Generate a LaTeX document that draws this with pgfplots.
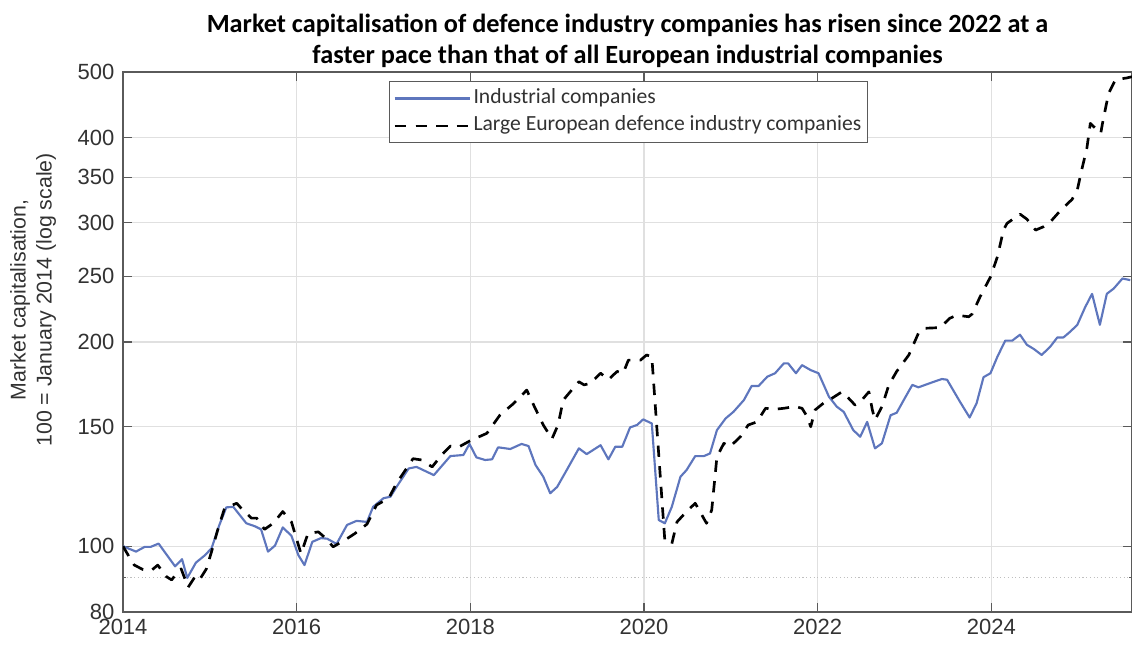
\documentclass[border=0pt]{standalone}
\usepackage{fontspec}
\setmainfont{Liberation Sans}
\newfontfamily\carlito{Carlito}
\usepackage{pgfplots}
\pgfplotsset{compat=1.18}
\definecolor{indblue}{RGB}{94,118,189}
\definecolor{axgray}{RGB}{90,90,90}
\definecolor{txtgray}{RGB}{50,50,50}
\begin{document}
\begin{tikzpicture}
\begin{axis}[
  at={(0,0)}, anchor=south west,
  width=756.75pt, height=405pt, scale only axis,
  xmin=2014, xmax=2025.62,
  ymode=log, ymin=80, ymax=500,
  log basis y=10,
  xtick={2014,2016,2018,2020,2022,2024},
  xticklabels={2014,2016,2018,2020,2022,2024},
  ytick={80,100,150,200,250,300,350,400,500},
  yticklabels={80,100,150,200,250,300,350,400,500},
  minor ytick={}, minor xtick={},
  extra y ticks={90},
  extra y tick labels={},
  extra y tick style={grid=major, major grid style={draw=black!25, dotted, line width=0.8pt}, major tick length=2pt},
  /pgf/number format/assume math mode=true,
  tick align=inside,
  major tick length=7pt,
  tick style={draw=axgray, line width=0.8pt},
  xtick pos=both, ytick pos=both,
  grid=major,
  major grid style={draw=black!12, line width=0.8pt},
  axis line style={draw=axgray, line width=1pt},
  ticklabel style={font=\fontsize{16.5}{18}\selectfont, text=txtgray},
  yticklabel style={xshift=-3pt},
  xticklabel style={yshift=-2pt},
  title={Market capitalisation of defence industry companies has risen since 2022 at a\\faster pace than that of all European industrial companies},
  title style={at={(axis description cs:0.5,1)}, anchor=south, yshift=-3pt, inner sep=0pt, align=center, font=\carlito\bfseries\fontsize{19.7}{23.5}\selectfont},
  ylabel={Market capitalisation,\\100 = January 2014 (log scale)},
  every axis y label/.style={at={(axis description cs:-0.0892,0.578)}, rotate=90, anchor=center, align=center, font=\fontsize{16}{19.5}\selectfont, text=txtgray},
  legend style={at={(axis description cs:0.2636,0.9833)}, anchor=north west, draw=axgray, line width=0.8pt, fill=white, font=\carlito\fontsize{16.2}{19}\selectfont, text=txtgray, inner xsep=3pt, inner ysep=2.5pt, nodes={inner sep=2pt, text height=12pt, text depth=4.5pt, anchor=west}, cells={anchor=west}},
  legend cell align=left,
  legend image code/.code={\draw[#1] (0pt,0pt) -- (53pt,0pt); \path (0pt,0pt) -- (56pt,0pt);},
  clip=true,
]
\addplot[indblue, line width=1.6pt, line join=round] coordinates {
(2014.00,100) (2014.15,98.2) (2014.25,99.8) (2014.32,99.8) (2014.41,100.9) (2014.60,93.4) (2014.68,95.7) (2014.74,89.8) (2014.84,94.6) (2014.94,96.9)
(2015.02,99.3) (2015.11,107.5) (2015.19,114.1) (2015.27,114.3) (2015.42,108.1) (2015.52,107.0) (2015.59,105.9) (2015.67,98.2) (2015.75,100.2) (2015.84,106.6) (2015.94,103.6)
(2016.02,97.0) (2016.09,93.8) (2016.18,101.5) (2016.28,102.8) (2016.35,102.6) (2016.46,100.8) (2016.58,107.5) (2016.69,109.0) (2016.81,108.6) (2016.88,114.3)
(2017.00,117.7) (2017.08,118.3) (2017.15,122.3) (2017.29,130.2) (2017.38,130.9) (2017.58,127.3) (2017.77,135.8) (2017.92,136.3) (2017.99,141.5)
(2018.07,135.2) (2018.17,134.0) (2018.25,134.3) (2018.32,139.9) (2018.46,139.1) (2018.59,141.5) (2018.67,140.5) (2018.75,131.8) (2018.84,126.6) (2018.92,119.7)
(2019.00,122.3) (2019.11,129.5) (2019.25,139.4) (2019.34,136.7) (2019.50,140.9) (2019.59,134.3) (2019.67,140.2) (2019.75,140.2) (2019.84,149.7) (2019.92,150.9) (2019.99,153.8)
(2020.09,151.7) (2020.17,109.3) (2020.24,108.1) (2020.32,114.3) (2020.42,126.6) (2020.49,129.5) (2020.59,135.8) (2020.69,135.8) (2020.76,137.0) (2020.84,148.3) (2020.94,154.3)
(2021.03,157.8) (2021.15,164.2) (2021.24,172.3) (2021.32,172.3) (2021.42,177.8) (2021.51,179.9) (2021.61,186.0) (2021.66,186.0) (2021.75,179.9) (2021.82,184.9) (2021.92,181.8)
(2022.01,179.9) (2022.13,166.1) (2022.22,160.6) (2022.30,157.8) (2022.41,148.3) (2022.49,145.0) (2022.57,152.5) (2022.66,139.4) (2022.74,141.8) (2022.84,156.0) (2022.91,157.3)
(2023.00,165.0) (2023.09,172.9) (2023.16,171.5) (2023.34,174.8) (2023.43,176.4) (2023.49,176.0) (2023.64,163.2) (2023.75,154.8) (2023.83,162.4) (2023.91,177.5) (2023.99,179.9)
(2024.07,190.3) (2024.16,200.9) (2024.24,200.9) (2024.33,205.0) (2024.41,198.1) (2024.49,195.3) (2024.58,191.4) (2024.68,197.0) (2024.76,203.1) (2024.83,203.1) (2024.91,207.2) (2024.99,212.0)
(2025.08,225.0) (2025.16,235.5) (2025.25,212.0) (2025.33,235.5) (2025.41,239.8) (2025.51,248.1) (2025.60,246.7)
};
\addlegendentry{Industrial companies}
\addplot[black, line width=2pt, dash pattern=on 8.5pt off 7pt, line join=round] coordinates {
(2014.00,100) (2014.06,97.0) (2014.13,93.8) (2014.23,92.4) (2014.33,92.2) (2014.40,93.8) (2014.50,90.2) (2014.56,89.2) (2014.63,91.6) (2014.67,92.6) (2014.75,87.0) (2014.83,90.2) (2014.88,89.2) (2014.96,92.6)
(2015.02,98.2) (2015.09,105.6) (2015.17,113.8) (2015.31,115.7) (2015.36,113.8) (2015.48,110.0) (2015.54,110.0) (2015.63,105.9) (2015.73,108.1) (2015.84,112.5) (2015.94,108.6)
(2016.05,97.5) (2016.13,104.4) (2016.25,105.0) (2016.34,102.6) (2016.42,99.8) (2016.58,102.6) (2016.67,104.4) (2016.81,107.8) (2016.92,115.0)
(2017.06,117.7) (2017.15,123.8) (2017.34,134.6) (2017.44,134.0) (2017.56,130.9) (2017.67,136.3) (2017.77,140.5) (2017.86,139.9)
(2018.00,143.1) (2018.19,146.7) (2018.34,156.0) (2018.50,162.4) (2018.65,169.9) (2018.73,161.4) (2018.84,150.9) (2018.94,144.0)
(2019.01,150.9) (2019.07,164.2) (2019.15,168.9) (2019.25,174.8) (2019.31,172.9) (2019.38,173.8) (2019.50,179.9) (2019.59,176.0) (2019.69,181.0) (2019.76,179.9) (2019.82,188.1) (2019.96,188.1)
(2020.03,191.4) (2020.09,190.3) (2020.24,101.9) (2020.32,100.8) (2020.38,108.6) (2020.49,112.5) (2020.59,115.7) (2020.72,108.1) (2020.78,113.1) (2020.84,135.5) (2020.92,141.8) (2020.99,140.2)
(2021.11,145.0) (2021.20,150.9) (2021.30,152.5) (2021.40,159.7) (2021.51,159.2) (2021.61,159.7) (2021.74,160.7) (2021.82,159.7) (2021.88,155.2) (2021.92,150.0) (2021.97,158.8)
(2022.11,164.2) (2022.16,165.1) (2022.28,168.9) (2022.34,166.1) (2022.43,161.5) (2022.49,163.2) (2022.59,168.9) (2022.63,158.8) (2022.66,153.5) (2022.74,160.6) (2022.82,172.9) (2022.91,181.0)
(2023.05,191.4) (2023.16,206.0) (2023.22,209.5) (2023.41,210.0) (2023.52,216.7) (2023.60,219.0) (2023.74,217.9) (2023.78,220.0) (2023.87,233.1) (2023.99,249.4)
(2024.07,267.1) (2024.14,292.4) (2024.18,299.1) (2024.33,308.7) (2024.41,303.4) (2024.51,292.4) (2024.60,295.7) (2024.68,300.7) (2024.80,312.9) (2024.93,324.5) (2024.99,335.0)
(2025.04,358.4) (2025.10,385.9) (2025.14,420.0) (2025.26,406.0) (2025.28,420.0) (2025.35,465.0) (2025.43,487.0) (2025.56,490.0) (2025.62,492.0)
};
\addlegendentry{Large European defence industry companies}
\end{axis}
\pgfresetboundingbox
\path[use as bounding box] (-92.25pt,-26.25pt) rectangle (756.75pt,459pt);
\end{tikzpicture}
\end{document}
